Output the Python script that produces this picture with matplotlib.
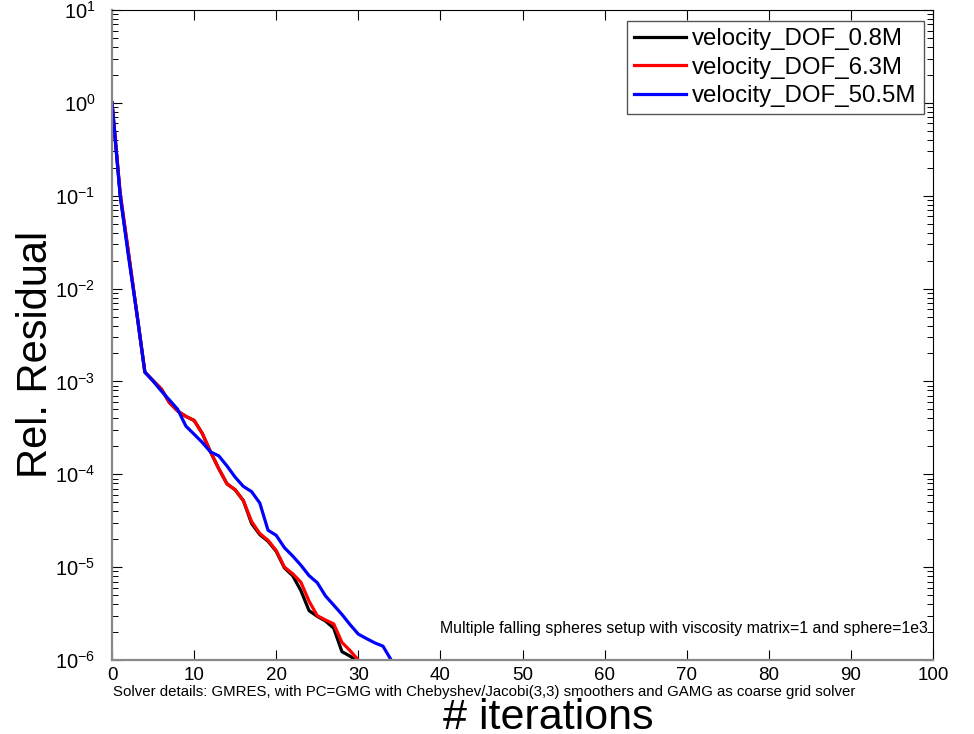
#!/usr/bin/env python3
"""Relative residual vs GMRES iterations for three velocity DOF sizes (falling spheres)."""
import matplotlib
matplotlib.use("Agg")
import matplotlib.pyplot as plt
from matplotlib.ticker import LogLocator, NullLocator

# iterations per run
iters_08 = list(range(0, 31))
iters_63 = list(range(0, 31))
iters_505 = list(range(0, 35))

# relative residual
res_08 = [1.0, 1.0e-1, 2.4e-2, 5.6e-3, 1.26e-3, 1.02e-3, 8.3e-4, 5.9e-4, 4.8e-4, 4.2e-4,
          3.8e-4, 2.75e-4, 1.74e-4, 1.15e-4, 7.9e-5, 6.8e-5, 5.2e-5, 2.95e-5, 2.24e-5, 1.9e-5,
          1.48e-5, 9.8e-6, 8.1e-6, 5.6e-6, 3.4e-6, 2.95e-6, 2.63e-6, 2.2e-6, 1.23e-6, 1.1e-6,
          9.5e-7]
res_63 = [1.0, 1.07e-1, 2.5e-2, 5.6e-3, 1.26e-3, 1.02e-3, 8.3e-4, 5.9e-4, 4.8e-4, 4.2e-4,
          3.8e-4, 2.75e-4, 1.74e-4, 1.15e-4, 7.9e-5, 6.8e-5, 5.2e-5, 3.1e-5, 2.3e-5, 1.95e-5,
          1.51e-5, 1.0e-5, 8.5e-6, 6.9e-6, 4.3e-6, 3.0e-6, 2.7e-6, 2.45e-6, 1.55e-6, 1.26e-6,
          1.0e-6]
res_505 = [1.0, 1.0e-1, 2.24e-2, 5.6e-3, 1.26e-3, 1.01e-3, 7.9e-4, 6.3e-4, 5.0e-4, 3.3e-4,
           2.7e-4, 2.2e-4, 1.74e-4, 1.58e-4, 1.23e-4, 9.3e-5, 7.4e-5, 6.5e-5, 4.9e-5, 2.5e-5,
           2.2e-5, 1.62e-5, 1.32e-5, 1.05e-5, 8.1e-6, 6.8e-6, 4.9e-6, 3.9e-6, 3.1e-6, 2.4e-6,
           1.9e-6, 1.7e-6, 1.53e-6, 1.41e-6, 1.0e-6]

labels = ["velocity_DOF_0.8M", "velocity_DOF_6.3M", "velocity_DOF_50.5M"]
xticks = [0, 10, 20, 30, 40, 50, 60, 70, 80, 90, 100]

note = "Multiple falling spheres setup with viscosity matrix=1 and sphere=1e3"
solver = ("Solver details: GMRES, with PC=GMG with Chebyshev/Jacobi(3,3) smoothers "
          "and GAMG as coarse grid solver")

plt.rcParams["font.family"] = ["Liberation Sans", "DejaVu Sans"]
plt.rcParams["mathtext.default"] = "regular"

fig = plt.figure(figsize=(9.74, 7.34), dpi=100)
ax = fig.add_axes([0.115, 0.1008, 0.843, 0.8856])

ax.plot(iters_08, res_08, color="black", lw=2.3, label=labels[0])
ax.plot(iters_63, res_63, color="red", lw=2.3, label=labels[1])
ax.plot(iters_505, res_505, color="blue", lw=2.3, label=labels[2])

ax.set_yscale("log")
ax.set_xlim(0, 100)
ax.set_ylim(1e-6, 1e1)
ax.set_xticks(xticks)
ax.xaxis.set_minor_locator(NullLocator())
ax.yaxis.set_major_locator(LogLocator(base=10, numticks=10))
ax.yaxis.set_minor_locator(LogLocator(base=10, subs=range(2, 10), numticks=10))

ax.tick_params(which="both", direction="in", top=True, right=True)
ax.tick_params(which="major", length=7, width=0.8)
ax.tick_params(which="minor", length=4, width=0.7)
ax.tick_params(axis="x", pad=5, labelsize=13.5)
ax.tick_params(axis="y", pad=12, labelsize=14.5)

for side in ("left", "bottom"):
    ax.spines[side].set_color("#888888")
    ax.spines[side].set_linewidth(1.6)
for side in ("top", "right"):
    ax.spines[side].set_linewidth(0.8)

ax.set_xlabel("# iterations", fontsize=31)
ax.xaxis.label.set_va("baseline")
ax.xaxis.set_label_coords(0.531, -0.106)
ax.set_ylabel("Rel. Residual", fontsize=30)
ax.yaxis.set_label_coords(-0.068, 0.47)

ax.text(40, 2.2e-6, note, fontsize=11.4, va="center", ha="left")
fig.text(0.116, 0.057, solver, fontsize=10.8, va="center", ha="left")

leg = ax.legend(loc="upper right", bbox_to_anchor=(0.989, 0.983), borderaxespad=0,
                fontsize=17.3, handlelength=2.16, handletextpad=0.27, labelspacing=0.27,
                borderpad=0.3, fancybox=False, framealpha=1)
leg.get_frame().set_edgecolor("#555555")
leg.get_frame().set_linewidth(1.0)

fig.savefig("out.png", dpi=100)
